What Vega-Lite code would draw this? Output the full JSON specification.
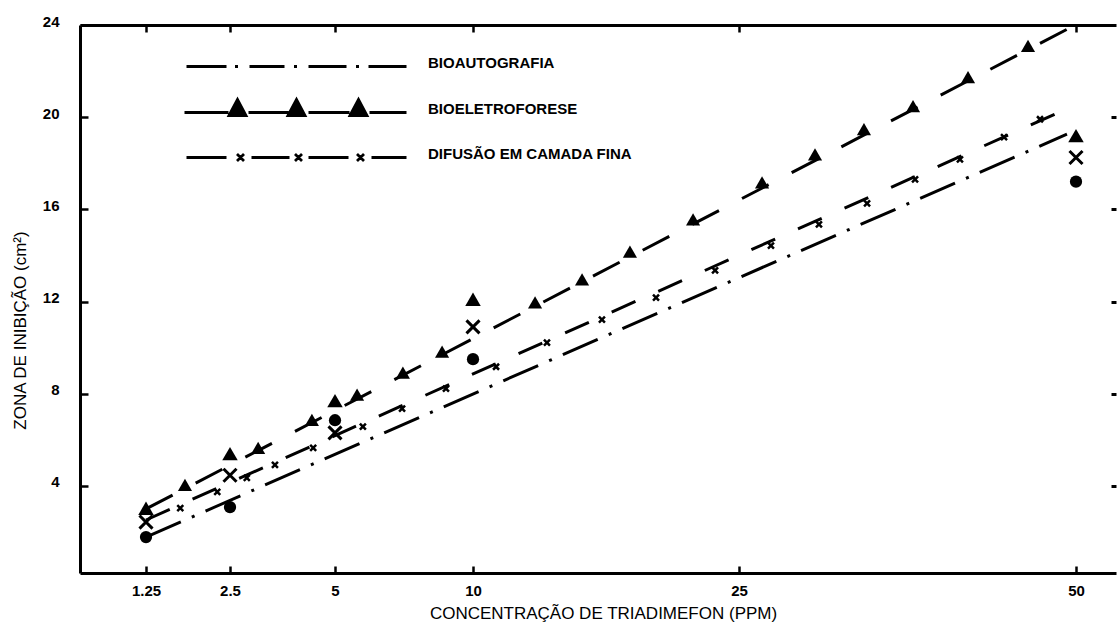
{
  "$schema": "https://vega.github.io/schema/vega-lite/v6.json",
  "width": 1036,
  "height": 548,
  "autosize": {"type": "none"},
  "padding": {"left": 80, "top": 25, "right": 2, "bottom": 70},
  "background": "white",
  "config": {"view": {"stroke": null}, "font": "Liberation Sans", "axis": {"titleColor": "black", "labelColor": "black"}, "legend": {"labelColor": "black"}},
  "resolve": {"axis": {"x": "independent", "y": "independent"}},
  "datasets": {
    "lines": [
      {"series": "BIOAUTOGRAFIA", "ppm": 1.25, "zona": 1.78},
      {"series": "BIOAUTOGRAFIA", "ppm": 49.33, "zona": 19.26},
      {"series": "BIOELETROFORESE", "ppm": 1.25, "zona": 3.0},
      {"series": "BIOELETROFORESE", "ppm": 49.78, "zona": 23.95},
      {"series": "DIFUSÃO EM CAMADA FINA", "ppm": 1.25, "zona": 2.52},
      {"series": "DIFUSÃO EM CAMADA FINA", "ppm": 49.78, "zona": 20.48}
    ],
    "markers": [
      {"series": "BIOELETROFORESE", "ppm": 1.83, "zona": 4.04},
      {"series": "BIOELETROFORESE", "ppm": 3.17, "zona": 5.65},
      {"series": "BIOELETROFORESE", "ppm": 4.45, "zona": 6.87},
      {"series": "BIOELETROFORESE", "ppm": 5.8, "zona": 7.96},
      {"series": "BIOELETROFORESE", "ppm": 7.46, "zona": 8.91},
      {"series": "BIOELETROFORESE", "ppm": 8.88, "zona": 9.83},
      {"series": "BIOELETROFORESE", "ppm": 13.5, "zona": 11.96},
      {"series": "BIOELETROFORESE", "ppm": 16.15, "zona": 12.96},
      {"series": "BIOELETROFORESE", "ppm": 18.85, "zona": 14.17},
      {"series": "BIOELETROFORESE", "ppm": 22.41, "zona": 15.57},
      {"series": "BIOELETROFORESE", "ppm": 26.71, "zona": 17.17},
      {"series": "BIOELETROFORESE", "ppm": 30.64, "zona": 18.39},
      {"series": "BIOELETROFORESE", "ppm": 34.27, "zona": 19.48},
      {"series": "BIOELETROFORESE", "ppm": 37.91, "zona": 20.48},
      {"series": "BIOELETROFORESE", "ppm": 41.99, "zona": 21.74},
      {"series": "BIOELETROFORESE", "ppm": 46.44, "zona": 23.09},
      {"series": "DIFUSÃO EM CAMADA FINA", "ppm": 1.76, "zona": 3.04},
      {"series": "DIFUSÃO EM CAMADA FINA", "ppm": 2.31, "zona": 3.74},
      {"series": "DIFUSÃO EM CAMADA FINA", "ppm": 2.9, "zona": 4.35},
      {"series": "DIFUSÃO EM CAMADA FINA", "ppm": 3.57, "zona": 4.91},
      {"series": "DIFUSÃO EM CAMADA FINA", "ppm": 4.48, "zona": 5.65},
      {"series": "DIFUSÃO EM CAMADA FINA", "ppm": 6.01, "zona": 6.57},
      {"series": "DIFUSÃO EM CAMADA FINA", "ppm": 7.43, "zona": 7.35},
      {"series": "DIFUSÃO EM CAMADA FINA", "ppm": 9.02, "zona": 8.22},
      {"series": "DIFUSÃO EM CAMADA FINA", "ppm": 11.3, "zona": 9.17},
      {"series": "DIFUSÃO EM CAMADA FINA", "ppm": 14.17, "zona": 10.22},
      {"series": "DIFUSÃO EM CAMADA FINA", "ppm": 17.27, "zona": 11.22},
      {"series": "DIFUSÃO EM CAMADA FINA", "ppm": 20.32, "zona": 12.17},
      {"series": "DIFUSÃO EM CAMADA FINA", "ppm": 23.65, "zona": 13.35},
      {"series": "DIFUSÃO EM CAMADA FINA", "ppm": 27.37, "zona": 14.43},
      {"series": "DIFUSÃO EM CAMADA FINA", "ppm": 30.93, "zona": 15.35},
      {"series": "DIFUSÃO EM CAMADA FINA", "ppm": 34.5, "zona": 16.26},
      {"series": "DIFUSÃO EM CAMADA FINA", "ppm": 38.06, "zona": 17.3},
      {"series": "DIFUSÃO EM CAMADA FINA", "ppm": 41.39, "zona": 18.17},
      {"series": "DIFUSÃO EM CAMADA FINA", "ppm": 44.66, "zona": 19.13},
      {"series": "DIFUSÃO EM CAMADA FINA", "ppm": 47.33, "zona": 19.91}
    ],
    "points": [
      {"series": "BIOELETROFORESE", "ppm": 1.25, "zona": 3.03},
      {"series": "BIOELETROFORESE", "ppm": 2.5, "zona": 5.4},
      {"series": "BIOELETROFORESE", "ppm": 5, "zona": 7.7},
      {"series": "BIOELETROFORESE", "ppm": 10, "zona": 12.1},
      {"series": "BIOELETROFORESE", "ppm": 50, "zona": 19.2},
      {"series": "DIFUSÃO EM CAMADA FINA", "ppm": 1.25, "zona": 2.43},
      {"series": "DIFUSÃO EM CAMADA FINA", "ppm": 2.5, "zona": 4.46},
      {"series": "DIFUSÃO EM CAMADA FINA", "ppm": 5, "zona": 6.3},
      {"series": "DIFUSÃO EM CAMADA FINA", "ppm": 10, "zona": 10.9},
      {"series": "DIFUSÃO EM CAMADA FINA", "ppm": 50, "zona": 18.25},
      {"series": "BIOAUTOGRAFIA", "ppm": 1.25, "zona": 1.78},
      {"series": "BIOAUTOGRAFIA", "ppm": 2.5, "zona": 3.08},
      {"series": "BIOAUTOGRAFIA", "ppm": 5, "zona": 6.85},
      {"series": "BIOAUTOGRAFIA", "ppm": 10, "zona": 9.5},
      {"series": "BIOAUTOGRAFIA", "ppm": 50, "zona": 17.2}
    ]
  },
  "layer": [
    {
      "data": {"name": "lines"},
      "transform": [{"filter": "datum.series === 'BIOAUTOGRAFIA'"}],
      "mark": {"type": "line", "color": "black", "strokeWidth": 3, "strokeCap": "butt", "strokeDash": [38, 12, 3, 12]},
      "encoding": {
        "x": {
          "field": "ppm", "type": "quantitative",
          "scale": {"type": "linear", "domain": [0.268, 1.25, 2.5, 5, 10, 25, 50, 52.97], "range": [0, 66, 150, 255, 393, 659, 996, 1036], "zero": false, "nice": false},
          "axis": {
            "orient": "bottom", "values": [1.25, 2.5, 5, 10, 25, 50], "labelExpr": "'' + datum.value",
            "title": "CONCENTRAÇÃO DE TRIADIMEFON (PPM)", "titleFont": "Liberation Sans", "titleFontSize": 17, "titleFontWeight": "normal", "titleColor": "black",
            "titleX": 523, "titleY": 40, "titleBaseline": "middle", "titleAlign": "center", "titleAnchor": null,
            "labelFont": "Liberation Sans", "labelFontSize": 15, "labelFontWeight": "bold", "labelColor": "black", "labelPadding": 17,
            "labelFlush": false, "labelOverlap": false,
            "tickSize": -7, "tickWidth": 2.5, "tickColor": "black", "domainColor": "black", "domainWidth": 3, "grid": false
          }
        },
        "y": {
          "field": "zona", "type": "quantitative",
          "scale": {"domain": [0.22, 24], "zero": false, "nice": false},
          "axis": {
            "orient": "left", "values": [4, 8, 12, 16, 20, 24], "format": "d",
            "title": "ZONA DE INIBIÇÃO (cm²)", "titleFont": "Liberation Sans", "titleFontSize": 17, "titleFontWeight": "normal", "titleColor": "black",
            "titleX": -60, "titleY": 305, "titleAngle": -90, "titleBaseline": "middle", "titleAlign": "center", "titleAnchor": null,
            "labelFont": "Liberation Sans", "labelFontSize": 15, "labelFontWeight": "bold", "labelColor": "black", "labelPadding": 29, "labelOffset": -4,
            "labelFlush": false, "labelOverlap": false,
            "tickSize": -8, "tickWidth": 2.5, "tickColor": "black", "domainColor": "black", "domainWidth": 3, "grid": false
          }
        }
      }
    },
    {
      "data": {"name": "lines"},
      "transform": [{"filter": "datum.series === 'BIOELETROFORESE'"}],
      "mark": {"type": "line", "color": "black", "strokeWidth": 3, "strokeCap": "butt", "strokeDash": [30, 26]},
      "encoding": {
        "x": {"field": "ppm", "type": "quantitative", "axis": null},
        "y": {"field": "zona", "type": "quantitative", "axis": null}
      }
    },
    {
      "data": {"name": "lines"},
      "transform": [{"filter": "datum.series === 'DIFUSÃO EM CAMADA FINA'"}],
      "mark": {"type": "line", "color": "black", "strokeWidth": 3, "strokeCap": "butt", "strokeDash": [26, 25]},
      "encoding": {
        "x": {"field": "ppm", "type": "quantitative", "axis": null},
        "y": {"field": "zona", "type": "quantitative", "axis": null}
      }
    },
    {
      "data": {"name": "lines"},
      "transform": [{"filter": "datum.ppm < 0"}],
      "mark": {"type": "point", "filled": false, "color": "black", "strokeWidth": 2.8, "opacity": 1},
      "encoding": {
        "x": {"field": "ppm", "type": "quantitative", "axis": null},
        "y": {"field": "zona", "type": "quantitative", "axis": null},
        "shape": {
          "field": "series", "type": "nominal",
          "scale": {
            "domain": ["BIOAUTOGRAFIA", "BIOELETROFORESE", "DIFUSÃO EM CAMADA FINA"],
            "range": [
              "M-22,0.4L-18,0.4M-17.15,0.4L-16.85,0.4M-15.7,0.4L-12.2,0.4M-11.25,0.4L-10.95,0.4M-9.8,0.4L-6,0.4M-5.05,0.4L-4.75,0.4M-3.8,0.4L0,0.4",
              "M-22.2,0.4L-17.8,0.4M-17.75,0.7L-16.9,-0.9L-16.05,0.7ZM-17.62,0.6L-16.18,0.6M-17.5,0.4L-16.3,0.4M-17.4,0.2L-16.4,0.2M-17.3,0L-16.5,0M-17.2,-0.2L-16.6,-0.2M-17.1,-0.4L-16.7,-0.4M-16.98,-0.6L-16.82,-0.6M-15.8,0.4L-11.8,0.4M-11.85,0.7L-11,-0.9L-10.15,0.7ZM-11.72,0.6L-10.28,0.6M-11.6,0.4L-10.4,0.4M-11.5,0.2L-10.5,0.2M-11.4,0L-10.6,0M-11.3,-0.2L-10.7,-0.2M-11.2,-0.4L-10.8,-0.4M-11.08,-0.6L-10.92,-0.6M-9.8,0.4L-5.7,0.4M-5.65,0.7L-4.8,-0.9L-3.95,0.7ZM-5.52,0.6L-4.08,0.6M-5.4,0.4L-4.2,0.4M-5.3,0.2L-4.3,0.2M-5.2,0L-4.4,0M-5.1,-0.2L-4.5,-0.2M-5,-0.4L-4.6,-0.4M-4.88,-0.6L-4.72,-0.6M-3.7,0.4L0,0.4",
              "M-22,0.4L-18,0.4M-16.95,0.05L-16.25,0.75M-16.95,0.75L-16.25,0.05M-15.5,0.4L-11.7,0.4M-11.15,0.05L-10.45,0.75M-11.15,0.75L-10.45,0.05M-9.8,0.4L-5.8,0.4M-4.95,0.05L-4.25,0.75M-4.95,0.75L-4.25,0.05M-3.5,0.4L0,0.4"
            ]
          },
          "legend": {
            "orient": "none", "legendX": 315, "legendY": 26, "title": null, "padding": 0,
            "symbolSize": 400, "labelOffset": 10, "rowPadding": 20, "labelLimit": 400,
            "symbolStrokeColor": "black", "symbolStrokeWidth": 2.8, "symbolOpacity": 1,
            "labelFont": "Liberation Sans", "labelFontSize": 15, "labelFontWeight": "bold", "labelColor": "black"
          }
        }
      }
    },
    {
      "data": {"name": "markers"},
      "transform": [{"filter": "datum.series === 'BIOELETROFORESE'"}],
      "mark": {"type": "point", "shape": "triangle-up", "filled": true, "color": "black", "size": 200, "opacity": 1},
      "encoding": {
        "x": {
          "field": "ppm", "type": "quantitative",
          "scale": {"type": "linear", "domain": [0.268, 1.25, 2.5, 5, 10, 25, 50, 52.97], "range": [0, 66, 150, 255, 393, 659, 996, 1036], "zero": false, "nice": false},
          "axis": {"orient": "top", "values": [1.25, 2.5, 5, 10, 25, 50], "labels": false, "title": null, "tickSize": -7, "tickWidth": 2.5, "tickColor": "black", "domainColor": "black", "domainWidth": 3, "grid": false}
        },
        "y": {
          "field": "zona", "type": "quantitative",
          "scale": {"domain": [0.22, 24], "zero": false, "nice": false},
          "axis": {"orient": "right", "values": [4, 8, 12, 16, 20], "labels": false, "title": null, "domain": false, "tickSize": -5, "tickWidth": 3, "tickColor": "black", "grid": false}
        }
      }
    },
    {
      "data": {"name": "markers"},
      "transform": [{"filter": "datum.series === 'DIFUSÃO EM CAMADA FINA'"}],
      "mark": {"type": "point", "shape": "M-1,-1L1,1M-1,1L1,-1", "filled": false, "color": "black", "size": 36, "strokeWidth": 2.5, "opacity": 1},
      "encoding": {
        "x": {"field": "ppm", "type": "quantitative", "axis": null},
        "y": {"field": "zona", "type": "quantitative", "axis": null}
      }
    },
    {
      "data": {"name": "points"},
      "transform": [{"filter": "datum.series === 'BIOELETROFORESE'"}],
      "mark": {"type": "point", "shape": "triangle-up", "filled": true, "color": "black", "size": 240, "opacity": 1},
      "encoding": {
        "x": {"field": "ppm", "type": "quantitative", "axis": null},
        "y": {"field": "zona", "type": "quantitative", "axis": null}
      }
    },
    {
      "data": {"name": "points"},
      "transform": [{"filter": "datum.series === 'DIFUSÃO EM CAMADA FINA'"}],
      "mark": {"type": "point", "shape": "M-1,-1L1,1M-1,1L1,-1", "filled": false, "color": "black", "size": 170, "strokeWidth": 3, "opacity": 1},
      "encoding": {
        "x": {"field": "ppm", "type": "quantitative", "axis": null},
        "y": {"field": "zona", "type": "quantitative", "axis": null}
      }
    },
    {
      "data": {"name": "points"},
      "transform": [{"filter": "datum.series === 'BIOAUTOGRAFIA'"}],
      "mark": {"type": "point", "shape": "circle", "filled": true, "color": "black", "size": 150, "opacity": 1},
      "encoding": {
        "x": {"field": "ppm", "type": "quantitative", "axis": null},
        "y": {"field": "zona", "type": "quantitative", "axis": null}
      }
    }
  ]
}
